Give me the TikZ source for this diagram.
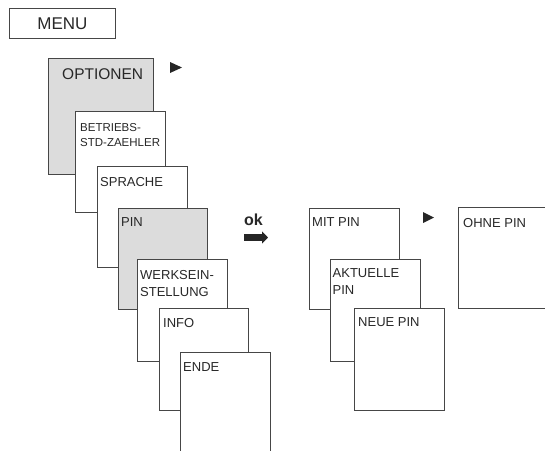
\documentclass[tikz,border=0pt]{standalone}
\usepackage{fontspec}
\setmainfont{Liberation Sans}
\usetikzlibrary{arrows.meta}
\definecolor{linec}{RGB}{70,70,70}
\definecolor{fillg}{RGB}{220,220,220}
\definecolor{textc}{RGB}{40,40,40}
\begin{document}
\begin{tikzpicture}[x=1pt,y=-1pt,
  box/.style={draw=linec, fill=white, line width=0.9pt, inner sep=0pt, anchor=north west},
  grey/.style={fill=fillg},
  txt/.style={anchor=north west, inner sep=0pt, align=left, text=textc, font=\fontsize{13}{16}\selectfont},
  tri/.style={fill=black!85}]
\useasboundingbox (0,0) rectangle (545,450);
\clip (0,0) rectangle (545,450);
% MENU
\node[box, minimum width=106pt, minimum height=30pt, font=\fontsize{17}{20}\selectfont, text=textc] (menu) at (9,8) {MENU};
% left column
\node[box, grey, minimum width=105pt, minimum height=116pt] (opt) at (48,58) {};
\node[txt, font=\fontsize{15.5}{18}\selectfont] (optT) at ([xshift=14pt,yshift=-10pt]opt.north west) {OPTIONEN};
\node[box, minimum width=90pt, minimum height=101pt] (betr) at (75,111) {};
\node[txt, font=\fontsize{11.5}{15}\selectfont] (betrT) at ([xshift=5pt,yshift=-12pt]betr.north west) {BETRIEBS-\\STD-ZAEHLER};
\node[box, minimum width=90pt, minimum height=101pt] (spr) at (97,166) {};
\node[txt] (sprT) at ([xshift=3pt,yshift=-11pt]spr.north west) {SPRACHE};
\node[box, grey, minimum width=89pt, minimum height=101pt] (pin) at (118,208) {};
\node[txt] (pinT) at ([xshift=3pt,yshift=-9pt]pin.north west) {PIN};
\node[box, minimum width=90pt, minimum height=102pt] (werk) at (137,259) {};
\node[txt, font=\fontsize{13}{17}\selectfont] (werkT) at ([xshift=3pt,yshift=-11pt]werk.north west) {WERKSEIN-\\STELLUNG};
\node[box, minimum width=89pt, minimum height=102pt] (info) at (159,308) {};
\node[txt] (infoT) at ([xshift=4pt,yshift=-10pt]info.north west) {INFO};
\node[box, minimum width=90pt, minimum height=115pt] (ende) at (180,352) {};
\node[txt] (endeT) at ([xshift=3pt,yshift=-10pt]ende.north west) {ENDE};
% right group
\node[box, minimum width=90pt, minimum height=101pt] (mit) at (309,208) {};
\node[txt] (mitT) at ([xshift=3pt,yshift=-9pt]mit.north west) {MIT PIN};
\node[box, minimum width=90pt, minimum height=102pt] (akt) at (330,259) {};
\node[txt, font=\fontsize{13}{17}\selectfont] (aktT) at ([xshift=2.5pt,yshift=-9pt]akt.north west) {AKTUELLE\\PIN};
\node[box, minimum width=90pt, minimum height=102pt] (neue) at (354,308) {};
\node[txt] (neueT) at ([xshift=4pt,yshift=-9pt]neue.north west) {NEUE PIN};
\node[box, minimum width=110pt, minimum height=101pt] (ohne) at (458,207) {};
\node[txt] (ohneT) at ([xshift=5pt,yshift=-11pt]ohne.north west) {OHNE PIN};
% triangles
\fill[tri] (170,62) -- (182,67.5) -- (170,73) -- cycle;
\fill[tri] (423,212) -- (434,217.5) -- (423,223) -- cycle;
% ok arrow
\node[anchor=base west, inner sep=0pt, font=\bfseries\fontsize{16}{18}\selectfont, text=textc] (ok) at (244,225) {ok};
\coordinate (okA) at (244,237.5);
\coordinate (okB) at (268,237.5);
\draw[line width=7pt, black!85, -{Triangle[length=6pt,width=12pt]}] (okA) -- (okB);
\end{tikzpicture}
\end{document}
